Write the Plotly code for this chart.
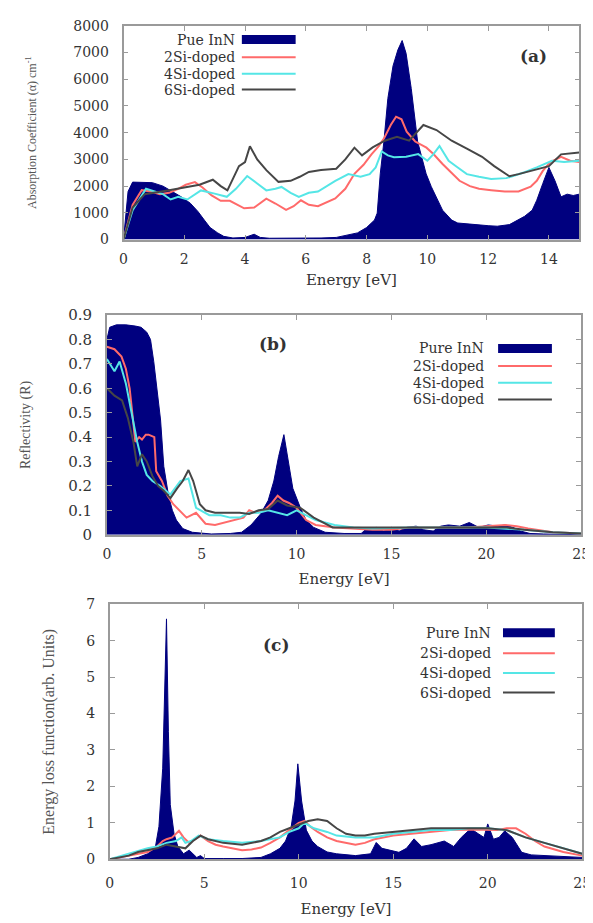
import plotly.graph_objects as go

W, H = 593, 923

# ---------------- Panel (a): Absorption coefficient ----------------
a_pure_E = [0, 0.15, 0.3, 0.6, 0.95, 1.3, 1.6, 1.9, 2.2, 2.45, 2.66, 2.85, 3.1, 3.3, 3.6, 4.0, 4.3, 4.5, 4.8, 5.5, 6.5, 7.0, 7.7, 8.0, 8.26, 8.35, 8.45, 8.57, 8.7, 8.87, 9.03, 9.17, 9.3, 9.47, 9.68, 9.96, 10.13, 10.5, 10.8, 11.0, 11.3, 11.6, 12.0, 12.3, 12.7, 13.2, 13.45, 13.6, 13.8, 14.0, 14.2, 14.4, 14.6, 14.8, 15.0]
a_pure_val = [0, 1800, 2150, 2150, 2130, 2000, 1800, 1600, 1360, 1050, 730, 450, 250, 120, 60, 80, 200, 80, 50, 50, 60, 80, 250, 450, 730, 990, 2460, 3670, 5280, 6500, 7100, 7450, 6970, 5650, 3670, 2460, 1980, 1100, 730, 620, 600, 560, 520, 500, 560, 870, 1100, 1470, 2100, 2700, 2200, 1600, 1700, 1650, 1700]

a_red_E = [0, 0.3, 0.6, 0.9, 1.2, 1.5, 1.8, 2.05, 2.35, 2.6, 2.9, 3.2, 3.5, 3.75, 3.97, 4.3, 4.7, 5.0, 5.35, 5.6, 5.84, 6.1, 6.4, 6.97, 7.3, 7.6, 7.9, 8.16, 8.4, 8.58, 8.8, 8.97, 9.15, 9.32, 9.6, 9.97, 10.2, 10.5, 10.8, 11.06, 11.4, 11.7, 12.1, 12.55, 13.0, 13.4, 13.6, 13.8, 14.05, 14.4, 14.7, 15.0]
a_red_val = [0, 1300, 1850, 1800, 1700, 1750, 1900, 2050, 2150, 1950, 1650, 1450, 1450, 1300, 1170, 1200, 1530, 1350, 1110, 1250, 1470, 1300, 1250, 1540, 1900, 2460, 2800, 3190, 3500, 3800, 4300, 4600, 4500, 4040, 3670, 3440, 3200, 2830, 2500, 2200, 2000, 1900, 1850, 1800, 1800, 1980, 2200, 2570, 2900, 3100, 2950, 2900]

a_cyan_E = [0, 0.3, 0.74, 1.0, 1.3, 1.55, 1.8, 2.1, 2.55, 3.0, 3.4, 3.7, 4.07, 4.4, 4.7, 5.0, 5.2, 5.5, 5.77, 6.1, 6.4, 6.97, 7.4, 7.8, 8.1, 8.3, 8.5, 8.7, 8.9, 9.3, 9.7, 10.0, 10.2, 10.4, 10.7, 11.0, 11.3, 11.7, 12.1, 12.6, 13.2, 13.6, 14.1, 14.5, 15.0]
a_cyan_val = [0, 1100, 1900, 1800, 1700, 1500, 1600, 1500, 1840, 1720, 1600, 1900, 2380, 2100, 1840, 1900, 1970, 1750, 1600, 1750, 1800, 2200, 2450, 2350, 2450, 2700, 3300, 3150, 3080, 3100, 3200, 2950, 3200, 3500, 2950, 2700, 2450, 2350, 2270, 2300, 2520, 2700, 2950, 2900, 2950]

a_dark_E = [0, 0.3, 0.7, 1.0, 1.5, 2.0, 2.5, 2.94, 3.2, 3.42, 3.6, 3.8, 4.0, 4.16, 4.4, 4.7, 5.1, 5.5, 5.8, 6.1, 6.5, 7.0, 7.3, 7.6, 7.85, 8.2, 8.6, 9.0, 9.4, 9.87, 10.3, 10.8, 11.3, 11.8, 12.2, 12.7, 13.0, 13.5, 14.0, 14.4, 15.0]
a_dark_val = [0, 1200, 1700, 1750, 1850, 1950, 2050, 2240, 2000, 1840, 2300, 2750, 2900, 3490, 3000, 2600, 2160, 2200, 2350, 2530, 2600, 2650, 3000, 3440, 3150, 3450, 3700, 3850, 3700, 4290, 4100, 3700, 3400, 3100, 2750, 2370, 2450, 2600, 2750, 3190, 3260]

# ---------------- Panel (b): Reflectivity ----------------
b_pure_E = [0, 0.15, 0.5, 1.0, 1.5, 1.8, 2.1, 2.3, 2.47, 2.65, 2.83, 3.0, 3.25, 3.45, 3.66, 4.0, 4.5, 5.5, 6.5, 7.1, 7.6, 8.1, 8.5, 8.8, 9.05, 9.33, 9.55, 9.8, 10.2, 10.5, 10.9, 11.5, 12.5, 13.4, 13.7, 14.2, 14.6, 15.0, 15.4, 15.8, 16.3, 16.7, 17.2, 17.6, 18.0, 18.6, 19.1, 19.6, 20.1, 20.6, 21.0, 21.4, 21.8, 22.3, 23, 25]
b_pure_val = [0.80, 0.85, 0.86, 0.86, 0.855, 0.85, 0.83, 0.80, 0.71, 0.60, 0.47, 0.28, 0.16, 0.10, 0.06, 0.025, 0.01, 0.003, 0.005, 0.01, 0.04, 0.085, 0.14, 0.22, 0.32, 0.41, 0.30, 0.19, 0.11, 0.06, 0.03, 0.01, 0.005, 0.005, 0.025, 0.03, 0.015, 0.03, 0.015, 0.03, 0.035, 0.02, 0.015, 0.035, 0.04, 0.035, 0.05, 0.03, 0.04, 0.035, 0.04, 0.03, 0.015, 0.005, 0.003, 0.0]

b_red_E = [0, 0.4, 0.77, 1.0, 1.2, 1.35, 1.5, 1.7, 1.85, 2.05, 2.2, 2.5, 2.6, 2.9, 3.2, 3.5, 3.8, 4.2, 4.7, 5.2, 5.7, 6.2, 6.75, 7.2, 7.5, 7.8, 8.3, 8.7, 9.0, 9.3, 9.6, 10.0, 10.5, 11.0, 12.0, 13.0, 14.0, 15.0, 16.0, 17.0, 18.0, 19.0, 20.0, 21.0, 21.6, 22.2, 23.5, 25.0]
b_red_val = [0.77, 0.76, 0.73, 0.68, 0.60, 0.50, 0.38, 0.40, 0.39, 0.41, 0.41, 0.40, 0.26, 0.22, 0.16, 0.125, 0.10, 0.07, 0.09, 0.045, 0.04, 0.05, 0.06, 0.07, 0.10, 0.09, 0.10, 0.13, 0.16, 0.14, 0.13, 0.11, 0.06, 0.04, 0.03, 0.025, 0.02, 0.02, 0.03, 0.03, 0.03, 0.03, 0.035, 0.04, 0.035, 0.025, 0.01, 0.005]

b_cyan_E = [0, 0.4, 0.67, 1.0, 1.3, 1.6, 1.85, 2.1, 2.4, 2.8, 3.35, 3.6, 3.87, 4.3, 4.7, 5.4, 6.0, 6.5, 7.0, 7.5, 8.0, 8.5, 9.0, 9.5, 10.0, 10.5, 11.0, 12.0, 13.0, 14.0, 16.0, 18.0, 20.0, 22.0, 23.5, 25.0]
b_cyan_val = [0.72, 0.67, 0.71, 0.62, 0.50, 0.38, 0.30, 0.245, 0.22, 0.20, 0.165, 0.19, 0.22, 0.23, 0.11, 0.08, 0.08, 0.07, 0.07, 0.09, 0.09, 0.10, 0.09, 0.08, 0.10, 0.08, 0.06, 0.04, 0.03, 0.025, 0.03, 0.03, 0.03, 0.02, 0.01, 0.005]

b_dark_E = [0, 0.4, 0.8, 1.1, 1.4, 1.6, 1.85, 2.1, 2.4, 2.7, 3.0, 3.35, 3.7, 4.0, 4.3, 4.55, 4.9, 5.2, 5.7, 6.2, 7.0, 7.5, 8.0, 8.5, 9.0, 9.5, 10.2, 10.9, 11.5, 11.9, 13.0, 15.0, 17.0, 19.0, 21.0, 22.0, 23.5, 25.0]
b_dark_val = [0.60, 0.57, 0.55, 0.48, 0.38, 0.28, 0.33, 0.30, 0.24, 0.20, 0.18, 0.15, 0.19, 0.22, 0.265, 0.22, 0.125, 0.10, 0.09, 0.09, 0.09, 0.085, 0.10, 0.105, 0.14, 0.12, 0.11, 0.07, 0.045, 0.03, 0.03, 0.03, 0.03, 0.03, 0.03, 0.02, 0.01, 0.005]

# ---------------- Panel (c): Energy loss function ----------------
c_pure_E = [0, 1.0, 1.5, 2.0, 2.4, 2.6, 2.8, 2.9, 3.0, 3.1, 3.2, 3.4, 3.6, 3.9, 4.2, 4.4, 4.6, 4.8, 5.0, 6.0, 7.0, 8.0, 8.5, 9.0, 9.3, 9.6, 9.8, 9.95, 10.15, 10.4, 10.7, 11.0, 11.5, 12.0, 13.0, 13.8, 14.1, 14.4, 14.8, 15.3, 15.7, 16.1, 16.5, 17.0, 17.7, 18.2, 18.6, 19.1, 19.5, 19.8, 20.0, 20.3, 20.6, 20.9, 21.3, 21.8, 22.3, 23.0, 24.0, 25.0]
c_pure_val = [0, 0.0, 0.05, 0.15, 0.3, 0.9, 2.5, 4.5, 6.6, 3.5, 1.5, 0.7, 0.35, 0.15, 0.25, 0.15, 0.05, 0.1, 0.02, 0.02, 0.02, 0.05, 0.15, 0.3, 0.5, 0.9, 1.6, 2.62, 1.6, 0.8, 0.5, 0.35, 0.2, 0.15, 0.1, 0.15, 0.46, 0.3, 0.25, 0.19, 0.3, 0.56, 0.35, 0.4, 0.5, 0.35, 0.6, 0.84, 0.7, 0.6, 0.97, 0.55, 0.6, 0.78, 0.6, 0.19, 0.12, 0.1, 0.08, 0.05]

c_red_E = [0, 1.0, 1.5, 2.0, 2.5, 2.8, 3.0, 3.3, 3.66, 3.9, 4.2, 4.5, 4.8, 5.2, 5.6, 6.0, 6.5, 7.0, 7.5, 8.0, 8.5, 9.0, 9.5, 10.0, 10.3, 10.6, 11.0, 11.5, 12.0, 12.5, 13.0, 13.5, 14.0, 15.0, 16.0, 17.0, 18.0, 19.0, 20.0, 20.5, 21.0, 21.5, 22.0, 22.5, 23.0, 24.0, 25.0]
c_red_val = [0, 0.1, 0.15, 0.2, 0.35, 0.5, 0.55, 0.6, 0.78, 0.6, 0.45, 0.55, 0.65, 0.5, 0.4, 0.35, 0.3, 0.25, 0.27, 0.32, 0.45, 0.6, 0.8, 1.0, 1.05, 0.9, 0.75, 0.6, 0.5, 0.45, 0.4, 0.45, 0.55, 0.65, 0.7, 0.75, 0.8, 0.82, 0.8, 0.8, 0.85, 0.85, 0.7, 0.5, 0.35, 0.2, 0.1]

c_cyan_E = [0, 1.0, 2.0, 2.5, 3.0, 3.5, 3.8, 4.0, 4.3, 4.7, 5.2, 6.0, 7.0, 8.0, 8.5, 9.0, 9.5, 10.0, 10.3, 10.8, 11.5, 12.0, 13.0, 14.0, 15.0, 16.0, 17.0, 18.0, 19.0, 20.0, 21.0, 22.0, 23.0, 24.0, 25.0]
c_cyan_val = [0, 0.15, 0.3, 0.35, 0.45, 0.5, 0.6, 0.45, 0.5, 0.65, 0.55, 0.5, 0.45, 0.5, 0.55, 0.6, 0.75, 0.85, 1.0, 0.85, 0.75, 0.65, 0.6, 0.6, 0.7, 0.75, 0.8, 0.8, 0.85, 0.85, 0.8, 0.6, 0.45, 0.3, 0.15]

c_dark_E = [0, 1.0, 1.5, 2.0, 2.5, 3.0, 3.5, 4.0, 4.4, 4.8, 5.2, 6.0, 7.0, 7.5, 8.0, 8.5, 9.0, 9.5, 10.0, 10.5, 11.0, 11.5, 12.0, 12.5, 13.0, 13.5, 14.0, 15.0, 16.0, 17.0, 18.0, 19.0, 20.0, 21.0, 22.0, 23.0, 24.0, 25.0]
c_dark_val = [0, 0.1, 0.2, 0.25, 0.3, 0.4, 0.35, 0.3, 0.5, 0.65, 0.55, 0.45, 0.4, 0.45, 0.5, 0.6, 0.75, 0.85, 0.95, 1.05, 1.1, 1.05, 0.85, 0.7, 0.65, 0.65, 0.7, 0.75, 0.8, 0.85, 0.85, 0.85, 0.85, 0.8, 0.6, 0.45, 0.3, 0.15]

series_names = ["Pue InN", "2Si-doped", "4Si-doped", "6Si-doped"]
series_names_bc = ["Pure InN", "2Si-doped", "4Si-doped", "6Si-doped"]

NAVY = "#00007f"
RED = "#ff6a6a"
CYAN = "#55e6e6"
DARK = "#464646"

panels = [
    dict(ax="", data=[(a_pure_E, a_pure_val), (a_red_E, a_red_val), (a_cyan_E, a_cyan_val), (a_dark_E, a_dark_val)]),
    dict(ax="2", data=[(b_pure_E, b_pure_val), (b_red_E, b_red_val), (b_cyan_E, b_cyan_val), (b_dark_E, b_dark_val)]),
    dict(ax="3", data=[(c_pure_E, c_pure_val), (c_red_E, c_red_val), (c_cyan_E, c_cyan_val), (c_dark_E, c_dark_val)]),
]

fig = go.Figure()
colors = [NAVY, RED, CYAN, DARK]
for p in panels:
    for i, (xs, ys) in enumerate(p["data"]):
        if i == 0:
            fig.add_trace(go.Scatter(x=xs, y=ys, mode="lines", fill="tozeroy",
                                     fillcolor=NAVY, line=dict(color=NAVY, width=1),
                                     xaxis="x" + p["ax"], yaxis="y" + p["ax"], showlegend=False))
        else:
            fig.add_trace(go.Scatter(x=xs, y=ys, mode="lines",
                                     line=dict(color=colors[i], width=2),
                                     xaxis="x" + p["ax"], yaxis="y" + p["ax"], showlegend=False))


def fx(px):
    return px / W


def fy(py):
    return 1 - py / H


SERIF = "DejaVu Serif"
TXT = "#333333"

axis_common = dict(showline=True, linecolor="#9a9a9a", linewidth=1.5, mirror="ticks",
                   ticks="inside", ticklen=5, tickcolor="#9a9a9a", showgrid=False,
                   zeroline=False, tickfont=dict(family=SERIF, size=14, color=TXT))

fig.update_layout(
    width=W, height=H, margin=dict(l=0, r=0, t=0, b=0),
    paper_bgcolor="white", plot_bgcolor="white", showlegend=False,
    xaxis=dict(axis_common, domain=[fx(114), fx(580)], range=[0, 15], dtick=2, anchor="y",
               ticklabelstandoff=6,
               title=dict(text="Energy [eV]", font=dict(family=SERIF, size=15, color=TXT), standoff=8)),
    yaxis=dict(axis_common, domain=[fy(227), fy(9)], range=[0, 8000], dtick=1000, anchor="x",
               ticklabelstandoff=10,
               title=dict(text="Absorption Coefficient (α) cm<sup>-1</sup>",
                          font=dict(family="Liberation Serif", size=12, color="#555"), standoff=34)),
    xaxis2=dict(axis_common, domain=[fx(97), fx(582)], range=[0, 25], dtick=5, anchor="y2",
                ticklabelstandoff=6,
                title=dict(text="Energy [eV]", font=dict(family=SERIF, size=15, color=TXT), standoff=12)),
    yaxis2=dict(axis_common, domain=[fy(528), fy(304)], range=[0, 0.9], dtick=0.1, anchor="x2",
                ticklabelstandoff=10, tickfont=dict(family=SERIF, size=15, color=TXT),
                title=dict(text="Reflectivity (R)", font=dict(family="Liberation Serif", size=14, color="#555"), standoff=34)),
    xaxis3=dict(axis_common, domain=[fx(100), fx(583)], range=[0, 25], dtick=5, anchor="y3",
                ticklabelstandoff=10,
                title=dict(text="Energy [eV]", font=dict(family=SERIF, size=15, color=TXT), standoff=14)),
    yaxis3=dict(axis_common, domain=[fy(859), fy(599)], range=[0, 7], dtick=1, anchor="x3",
                ticklabelstandoff=10,
                title=dict(text="Energy loss function(arb. Units)", font=dict(family="Liberation Serif", size=16, color="#555"), standoff=28)),
)

# legends (gnuplot style: label right-aligned, sample on the right)
legend_specs = [
    (series_names, 230, 235, 290, [23, 41, 58, 74]),
    (series_names_bc, 485, 497, 552, [338, 356, 373, 390]),
    (series_names_bc, 492, 502, 555, [628, 649, 669, 689]),
]
for names, tx, sx0, sx1, rows in legend_specs:
    for i, (nm, ry) in enumerate(zip(names, rows)):
        fig.add_annotation(x=fx(tx), y=fy(ry), xref="paper", yref="paper", text=nm,
                           showarrow=False, xanchor="right", yanchor="middle",
                           font=dict(family=SERIF, size=14, color=TXT))
        fig.add_shape(type="line", xref="paper", yref="paper", x0=fx(sx0), x1=fx(sx1),
                      y0=fy(ry), y1=fy(ry),
                      line=dict(color=colors[i], width=9 if i == 0 else 2))

for lbl, px, py in [("(a)", 533, 40), ("(b)", 267, 333), ("(c)", 270, 640)]:
    fig.add_annotation(x=fx(px), y=fy(py), xref="paper", yref="paper", text="<b>%s</b>" % lbl,
                       showarrow=False, xanchor="center", yanchor="middle",
                       font=dict(family=SERIF, size=17, color=TXT))

fig.write_html("out.html")
